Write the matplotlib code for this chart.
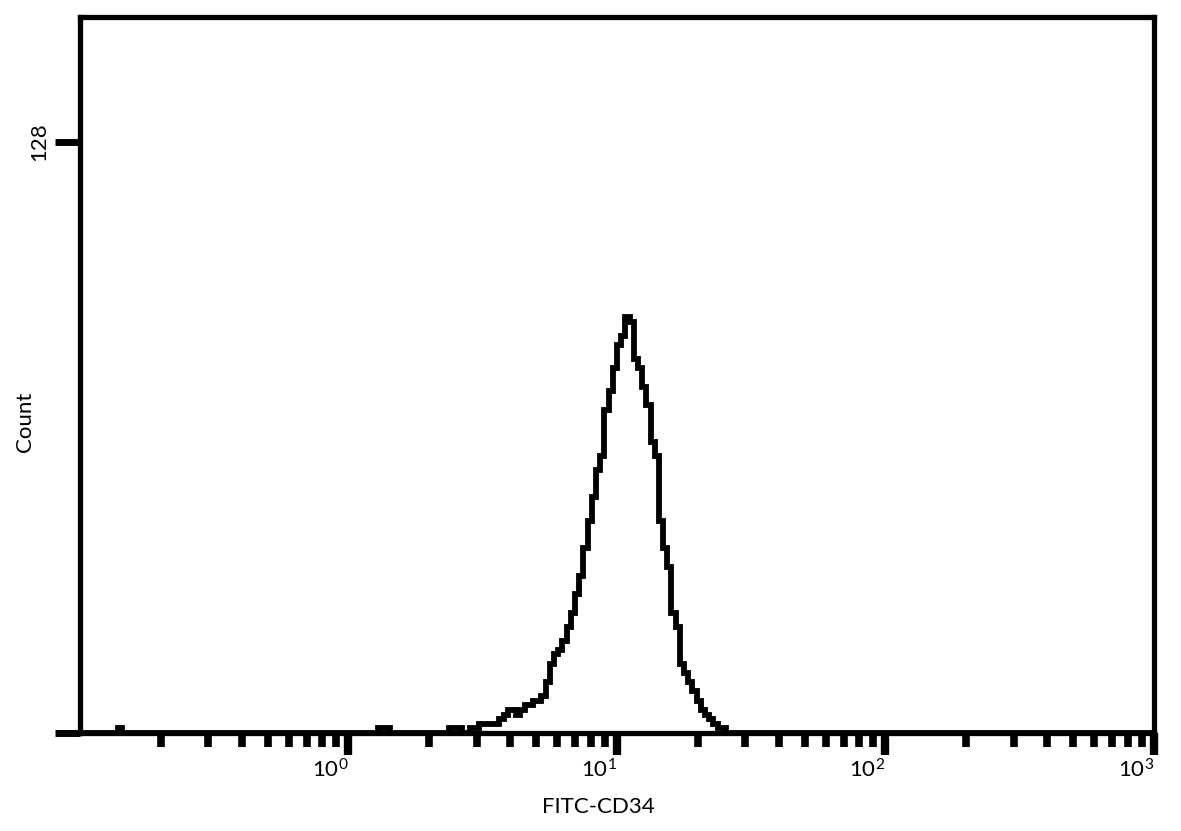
import numpy as np
import matplotlib
matplotlib.use("Agg")
import matplotlib.pyplot as plt
from matplotlib.ticker import LogLocator, NullFormatter, FixedLocator

plt.rcParams['font.family'] = ['Lato', 'DejaVu Sans']
plt.rcParams['mathtext.fontset'] = 'custom'
plt.rcParams['mathtext.rm'] = 'Lato'

# histogram: 256 log-spaced channels over 4 decades (0.1 .. 1000)
n_channels = 256
channels_per_decade = 64

# main population, counts per channel starting at peak_start
peak_start = 88
peak_counts = [1, 1, 1, 0, 0, 1, 1, 2, 2, 2, 2, 2, 3,
               4, 5, 5, 4, 5, 6, 6, 7, 7,
               8, 11, 15, 17, 18, 20, 23, 26, 30, 34, 40,
               46, 51, 57, 60, 70, 74, 79, 84, 86, 90, 89,
               81, 79, 75, 71, 63, 60, 46, 40, 36, 26, 23,
               15, 13, 11, 9, 7, 5, 4, 3, 2, 1, 1]

# a few stray events far from the peak
stray_channels = [9, 71, 72, 73]
stray_counts = [1, 1, 1, 1]

y_ticks = [0, 128]
y_tick_labels = ['', '128']
x_decades = [1, 10, 100, 1000]
x_tick_labels = [r'$\mathregular{10^{0}}$', r'$\mathregular{10^{1}}$',
                 r'$\mathregular{10^{2}}$', r'$\mathregular{10^{3}}$']

counts = np.zeros(n_channels)
counts[peak_start:peak_start + len(peak_counts)] = peak_counts
counts[stray_channels] = stray_counts
edges = 10.0 ** (-1 + np.arange(n_channels + 1) / channels_per_decade)

fig = plt.figure(figsize=(11.81, 8.31), dpi=100)
ax = fig.add_axes([0.0677, 0.1179, 0.9094, 0.8616])

ax.stairs(counts, edges, color='black', linewidth=4.2, baseline=None)

ax.set_xscale('log')
ax.set_xlim(0.1, 1000)
ax.set_ylim(0, 155)

for side in ['left', 'right', 'top', 'bottom']:
    ax.spines[side].set_linewidth(3.8)
    ax.spines[side].set_color('black')

ax.xaxis.set_major_locator(FixedLocator(x_decades))
ax.set_xticklabels(x_tick_labels, fontsize=16)
ax.xaxis.set_minor_locator(LogLocator(base=10, subs=range(2, 10), numticks=20))
ax.xaxis.set_minor_formatter(NullFormatter())
ax.tick_params(axis='x', which='major', direction='out', length=16, width=6, pad=2, top=False)
ax.tick_params(axis='x', which='minor', direction='out', length=10, width=5.5, top=False)
for lbl in ax.get_xticklabels():
    lbl.set_ha('right')

ax.set_yticks(y_ticks)
ax.set_yticklabels(y_tick_labels, rotation=90, va='center', fontsize=16)
ax.tick_params(axis='y', which='major', direction='out', length=18, width=5, pad=4, right=False)
ax.yaxis.set_minor_locator(FixedLocator([]))

ax.set_xlabel('FITC-CD34', fontsize=16)
ax.xaxis.set_label_coords((598 - 80) / 1074, -(807 - 733) / 716)
ax.set_ylabel('Count', fontsize=16)
ax.yaxis.set_label_coords(-(80 - 25) / 1074, (733 - 422) / 716)
ax.xaxis.label.set_va('center')
ax.yaxis.label.set_va('center')

fig.savefig('out.png', dpi=100, facecolor='white')
plt.close(fig)
